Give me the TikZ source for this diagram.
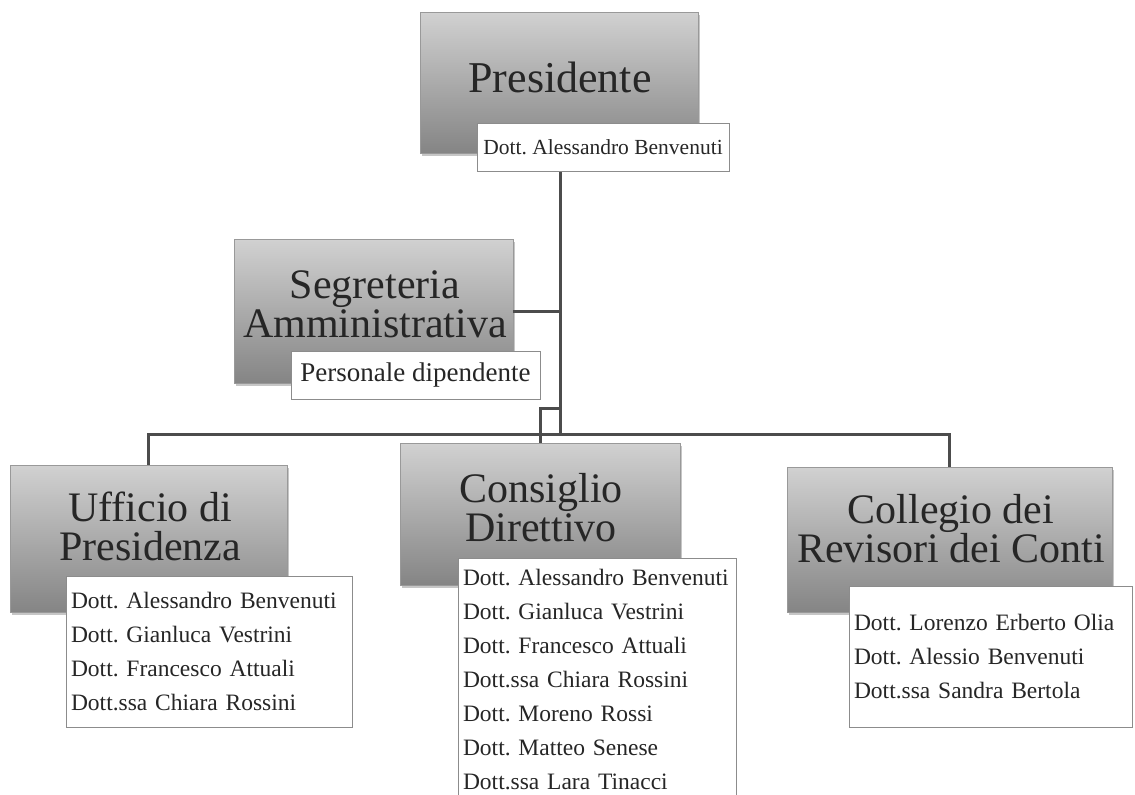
\documentclass[tikz,border=0pt]{standalone}
\usepackage{fontspec}
\setmainfont{Liberation Serif}
\usetikzlibrary{shadows}
\frenchspacing
\hyphenpenalty=10000

\begin{document}
\begin{tikzpicture}[x=1pt, y=-1pt,
        headbox/.style={draw=black!40, top color=black!18, bottom color=black!48, inner sep=0pt,
            drop shadow={shadow xshift=2pt, shadow yshift=-3pt, opacity=.45}},
        headtext/.style={align=center, text=black!85, font=\fontsize{42}{39}\selectfont},
        namebox/.style={draw=black!45, fill=white, text=black!85, inner xsep=5pt},
        namelist/.style={namebox, align=left, font=\fontsize{23.5}{34}\selectfont},
        link/.style={line width=3pt, draw=black!70}]
            \useasboundingbox (0,0) rectangle (1135,795);

            \node[headbox, minimum width=278pt, minimum height=141pt] (pres) at (559,82.5) {};
            \node[headbox, minimum width=279pt, minimum height=144pt] (segr) at (373.5,311) {};
            \node[headbox, minimum width=277pt, minimum height=147pt] (uff) at (148.5,538.5) {};
            \node[headbox, minimum width=280pt, minimum height=142pt] (cons) at (540,514) {};
            \node[headbox, minimum width=325pt, minimum height=145pt] (coll) at (949.5,539.5) {};

            \coordinate (hub) at (560,434);
            \draw[link] (pres.south -| hub) -- (hub);
            \draw[link] (segr.east) -- (segr.east -| hub);
            \draw[link] (uff.north) |- (hub) -| (coll.north);
            \draw[link] (cons.north) -- ++(0,-34) -| (hub);

            \node[headtext, font=\fontsize{44}{40}\selectfont] (prestitle) at (560,77) {Presidente};
            \node[headtext] (segrtitle) at (375,304) {Segreteria\\Amministrativa};
            \node[headtext] (ufftitle) at (150,526) {Ufficio di\\Presidenza};
            \node[headtext] (constitle) at (541,508) {Consiglio\\Direttivo};
            \node[headtext] (colltitle) at (951,529) {Collegio dei\\Revisori dei Conti};

            \node[namebox, minimum width=252pt, minimum height=48pt, font=\fontsize{21.5}{26}\selectfont] (presname) at (603,147) {Dott. Alessandro Benvenuti};
            \node[namebox, minimum width=249pt, minimum height=48pt, font=\fontsize{27}{32}\selectfont] (segrname) at (415.5,375) {Personale dipendente};

            \node[namelist, text width=276pt, minimum height=151pt] (uffnames) at (209,651.5) {Dott. Alessandro Benvenuti\\Dott. Gianluca Vestrini\\Dott. Francesco Attuali\\Dott.ssa Chiara Rossini};
            \node[namelist, text width=268pt, minimum height=243pt] (consnames) at (597,679.5) {Dott. Alessandro Benvenuti\\Dott. Gianluca Vestrini\\Dott. Francesco Attuali\\Dott.ssa Chiara Rossini\\Dott. Moreno Rossi\\Dott. Matteo Senese\\Dott.ssa Lara Tinacci};
            \node[namelist, text width=273pt, minimum height=141pt] (collnames) at (990.5,656.5) {Dott. Lorenzo Erberto Olia\\Dott. Alessio Benvenuti\\Dott.ssa Sandra Bertola};
        \end{tikzpicture}
\end{document}
